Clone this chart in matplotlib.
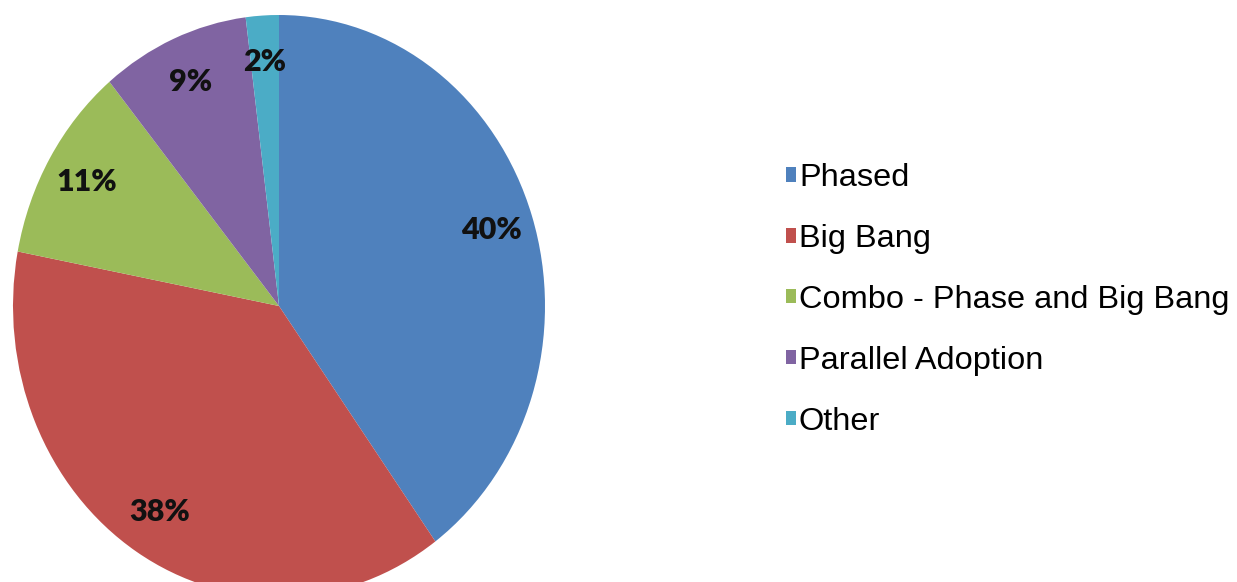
"""Camembert des stratégies de déploiement, avec légende à droite."""

import matplotlib

matplotlib.use("Agg")
import matplotlib.pyplot as plt

# Données
categories = ["Phased", "Big Bang", "Combo - Phase and Big Bang",
              "Parallel Adoption", "Other"]
shares = [40, 38, 11, 9, 2]
colors = ["#4F81BD", "#C0504D", "#9BBB59", "#8064A2", "#4BACC6"]

W, H = 1237, 582
fig = plt.figure(figsize=(W / 100, H / 100), dpi=100)

# Centre du camembert ~ (279, 306) px, rayons ~266 x 291 px (légèrement ovale)
cx, cy, rx, ry = 279, 306, 266, 291
ax = fig.add_axes([(cx - rx) / W, (H - cy - ry) / H, 2 * rx / W, 2 * ry / H])

wedges, texts, autotexts = ax.pie(
    shares, colors=colors, startangle=90, counterclock=False,
    autopct="%d%%", pctdistance=0.84,
    wedgeprops=dict(edgecolor="none"),
    textprops=dict(family="Lato", fontweight="heavy", fontsize=22,
                   color="#111111"),
)
ax.set_aspect("auto")
ax.set_xlim(-1, 1)
ax.set_ylim(-1, 1)
ax.set_axis_off()

fig.legend(
    wedges, categories, loc="center left",
    bbox_to_anchor=(786 / W, (H - 300) / H),
    frameon=False, borderpad=0, borderaxespad=0,
    handlelength=0.3, handleheight=0.3, handletextpad=0.1,
    labelspacing=0.95,
    prop=dict(family="Liberation Sans", size=23.4),
)

fig.savefig("out.png", dpi=100)
